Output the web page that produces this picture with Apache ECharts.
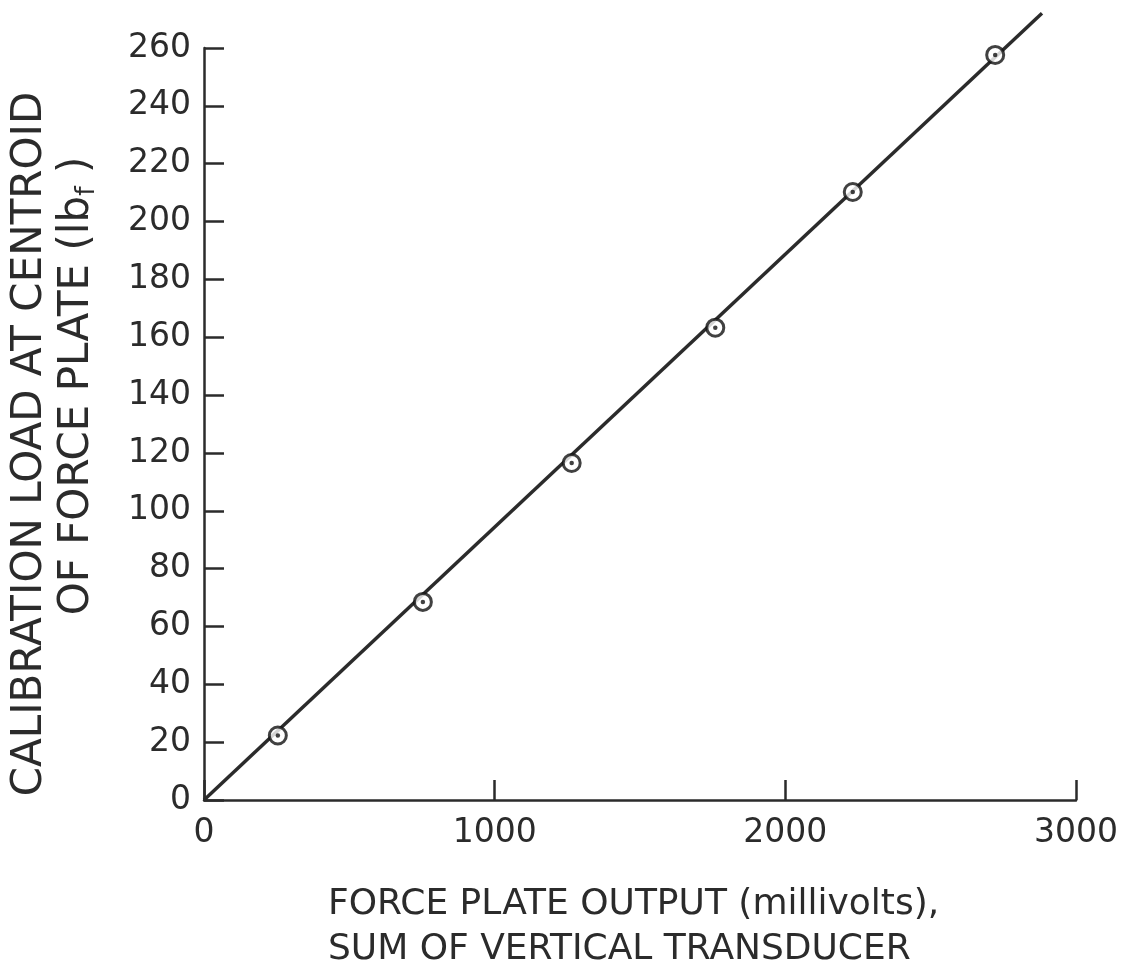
<!DOCTYPE html>
<html>
<head>
    <meta charset="UTF-8">
    <title>Force plate calibration</title>
    <script src="https://cdn.jsdelivr.net/npm/echarts@6/dist/echarts.min.js"></script>
    <style>
        html, body { margin: 0; padding: 0; background: #fff; }
    </style>
</head>
<body>
<div id="container" style="width: 1132px; height: 974px;"></div>
<script>
    // measured calibration points (millivolts, lbf)
    var outputMv = [254, 753, 1265, 1759, 2232, 2722];
    var loadLbf = [22.3, 68.5, 116.5, 163.3, 210.2, 257.6];

    // fitted straight line, drawn from the origin past the last point
    var fitX = [0, 2883];
    var fitY = [0, 272];

    var xTicks = [0, 1000, 2000, 3000];
    var yTicks = [0, 20, 40, 60, 80, 100, 120, 140, 160, 180, 200, 220, 240, 260];

    var ink = '#2b2b2b';
    var font = 'DejaVu Sans';

    var points = outputMv.map(function (v, i) { return [v, loadLbf[i]]; });
    var fitLine = fitX.map(function (v, i) { return [v, fitY[i]]; });

    var mychart = echarts.init(document.getElementById('container'));

    var option = {
        backgroundColor: '#fff',
        animation: false,
        grid: { left: 204, right: 56, top: 48, bottom: 174 },
        xAxis: {
            type: 'value',
            min: xTicks[0],
            max: xTicks[xTicks.length - 1],
            interval: 1000,
            splitLine: { show: false },
            axisLine: { lineStyle: { color: ink, width: 2.5 } },
            axisTick: { inside: true, length: 20, lineStyle: { color: ink, width: 2.5 } },
            axisLabel: {
                color: ink, fontFamily: font, fontSize: 33, margin: 17,
                formatter: function (v) { return String(v); }
            }
        },
        yAxis: {
            type: 'value',
            min: yTicks[0],
            max: yTicks[yTicks.length - 1],
            interval: 20,
            splitLine: { show: false },
            axisLine: { show: true, lineStyle: { color: ink, width: 2.5 } },
            axisTick: { show: true, inside: true, length: 20, lineStyle: { color: ink, width: 2.5 } },
            axisLabel: {
                color: ink, fontFamily: font, fontSize: 33, margin: 13,
                formatter: function (v) { return String(v); }
            }
        },
        series: [
            {
                type: 'line',
                data: fitLine,
                clip: false,
                symbol: 'none',
                lineStyle: { color: ink, width: 3.5 },
                z: 2
            },
            {
                type: 'scatter',
                data: points,
                symbol: 'circle',
                symbolSize: 17,
                itemStyle: { color: '#fff', borderColor: '#111', borderWidth: 3 },
                z: 3
            },
            {
                type: 'scatter',
                data: points,
                symbol: 'circle',
                symbolSize: 4.5,
                itemStyle: { color: '#111' },
                z: 4
            }
        ],
        graphic: [
            {
                type: 'text',
                x: 30, y: 444,
                rotation: Math.PI / 2,
                style: {
                    text: 'CALIBRATION LOAD AT CENTROID',
                    x: 0, y: 0,
                    align: 'center', verticalAlign: 'middle',
                    fontFamily: font, fontSize: 42, fill: ink
                }
            },
            {
                type: 'text',
                x: 77, y: 386,
                rotation: Math.PI / 2,
                style: {
                    text: 'OF FORCE PLATE (lb{s|f} )',
                    x: 0, y: 0,
                    align: 'center', verticalAlign: 'middle',
                    fontFamily: font, fontSize: 42, fill: ink,
                    rich: {
                        s: { fontFamily: font, fontSize: 27, fill: ink, padding: [20, 0, 0, 0] }
                    }
                }
            },
            {
                type: 'text',
                x: 328, y: 905,
                style: {
                    text: 'FORCE PLATE OUTPUT (millivolts),',
                    x: 0, y: 0,
                    align: 'left', verticalAlign: 'middle',
                    fontFamily: font, fontSize: 36, fill: ink
                }
            },
            {
                type: 'text',
                x: 328, y: 950,
                style: {
                    text: 'SUM OF VERTICAL TRANSDUCER',
                    x: 0, y: 0,
                    align: 'left', verticalAlign: 'middle',
                    fontFamily: font, fontSize: 36, fill: ink
                }
            }
        ]
    };

    mychart.setOption(option);
</script>
</body>
</html>
